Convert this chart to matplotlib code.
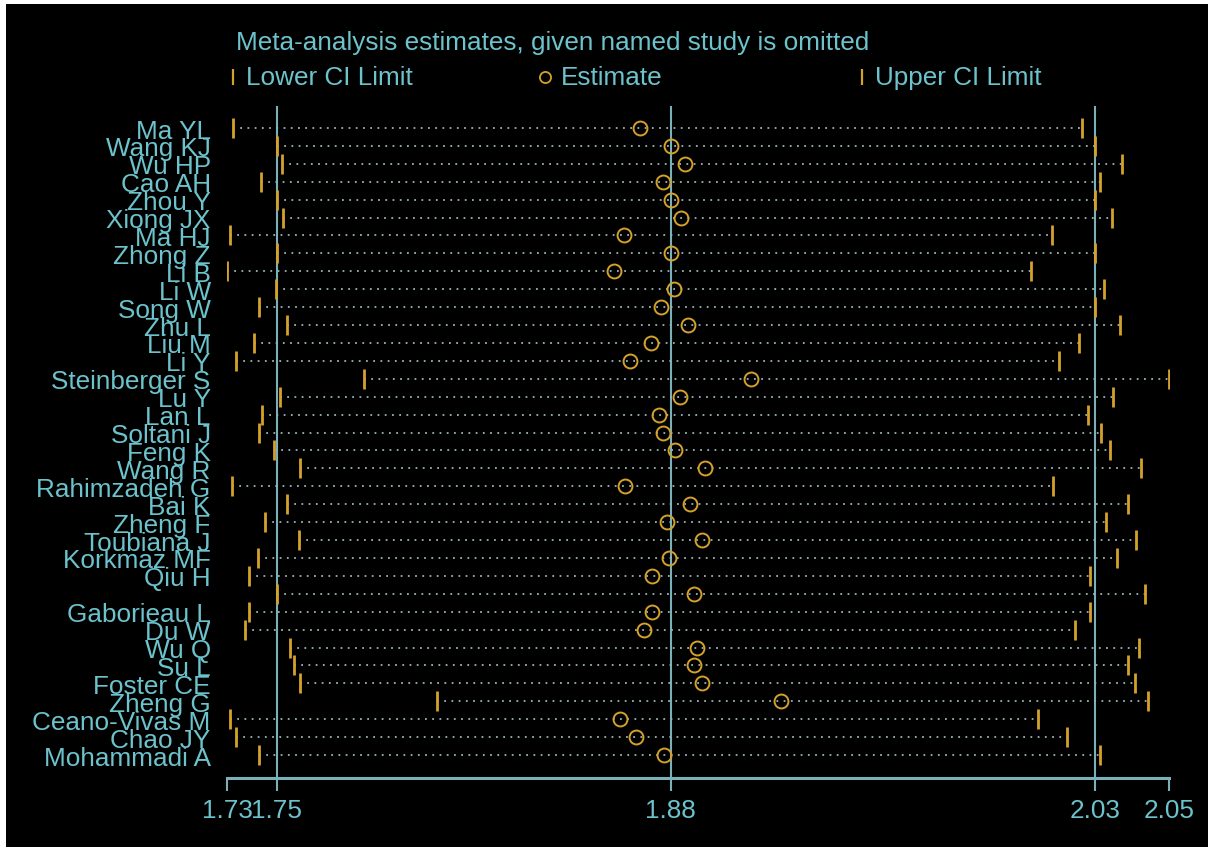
import matplotlib
matplotlib.use('Agg')
import matplotlib.pyplot as plt
from matplotlib.patches import Rectangle
from matplotlib.lines import Line2D

plt.rcParams['font.family'] = ['Liberation Sans', 'DejaVu Sans']

# study omitted, in plot order (one row has no name)
studies = ['Ma YL', 'Wang KJ', 'Wu HP', 'Cao AH', 'Zhou Y', 'Xiong JX', 'Ma HJ', 'Zhong Z',
           'Li B', 'Li W', 'Song W', 'Zhu L', 'Liu M', 'Li Y', 'Steinberger S', 'Lu Y',
           'Lan L', 'Soltani J', 'Feng K', 'Wang R', 'Rahimzadeh G', 'Bai K', 'Zheng F',
           'Toubiana J', 'Korkmaz MF', 'Qiu H', '', 'Gaborieau L', 'Du W', 'Wu Q', 'Su L',
           'Foster CE', 'Zheng G', 'Ceano-Vivas M', 'Chao JY', 'Mohammadi A']

lower = [1.7361, 1.7509, 1.7525, 1.7455, 1.7509, 1.7530, 1.7350, 1.7509,
         1.7341, 1.7505, 1.7449, 1.7544, 1.7430, 1.7370, 1.7803, 1.7520,
         1.7460, 1.7450, 1.7499, 1.7588, 1.7356, 1.7544, 1.7469,
         1.7584, 1.7445, 1.7414, 1.7509, 1.7414, 1.7401, 1.7553, 1.7568,
         1.7588, 1.8052, 1.7350, 1.7370, 1.7449]

estimate = [1.8740, 1.8843, 1.8893, 1.8818, 1.8843, 1.8879, 1.8684, 1.8843,
            1.8650, 1.8853, 1.8809, 1.8903, 1.8775, 1.8704, 1.9116, 1.8873,
            1.8804, 1.8818, 1.8859, 1.8958, 1.8689, 1.8908, 1.8831,
            1.8948, 1.8838, 1.8779, 1.8922, 1.8779, 1.8754, 1.8933, 1.8922,
            1.8948, 1.9217, 1.8670, 1.8724, 1.8819]

upper = [2.0237, 2.0281, 2.0371, 2.0297, 2.0281, 2.0337, 2.0133, 2.0281,
         2.0063, 2.0310, 2.0281, 2.0366, 2.0227, 2.0157, 2.0530, 2.0341,
         2.0257, 2.0301, 2.0332, 2.0436, 2.0138, 2.0391, 2.0316,
         2.0420, 2.0356, 2.0262, 2.0450, 2.0262, 2.0212, 2.0430, 2.0391,
         2.0417, 2.0461, 2.0088, 2.0187, 2.0297]

# pooled result with all studies
overall = [1.7509, 1.8843, 2.0281]

TXT = '#6cc3cc'
LINE = '#7cb0b8'
GOLD = '#d4a22a'
DOT = '#9ab3b6'
FS = 18.8

fig = plt.figure(figsize=(12.15, 8.53), dpi=100, facecolor='white')
fig.patches.append(Rectangle((6/1215, 1 - 848/853), 1202/1215, 843/853,
                             transform=fig.transFigure, facecolor='black',
                             edgecolor='none', zorder=-10))

ax = fig.add_axes([227.3/1215, 1 - 779/853, (1168.7 - 227.3)/1215, (779 - 107)/853])
ax.set_facecolor('black')

rows = list(range(len(studies)))

# overall CI and estimate
for v in overall:
    ax.axvline(v, color=LINE, lw=1.5, zorder=1)

for i in rows:
    ax.plot([lower[i], upper[i]], [i, i], color=DOT, lw=1.3,
            linestyle=(0, (1, 3)), zorder=2)
ax.plot(lower, rows, linestyle='none', marker='|', ms=14, mew=2, color=GOLD, zorder=3)
ax.plot(upper, rows, linestyle='none', marker='|', ms=14, mew=2, color=GOLD, zorder=3)
ax.plot(estimate, rows, linestyle='none', marker='o', ms=10, mfc='none', mec=GOLD,
        mew=1.4, zorder=4)

lo_all = min(lower)
hi_all = max(upper)
ax.set_xlim(lo_all, hi_all)
ax.set_ylim(36.28, -1.228)

ticks = [lo_all] + overall + [hi_all]
ax.set_xticks(ticks)
ax.set_xticklabels([f'{t:.2f}' for t in ticks])
ax.set_yticks(rows)
ax.set_yticklabels(studies)

for s in ['top', 'right', 'left']:
    ax.spines[s].set_visible(False)
ax.spines['bottom'].set_color(LINE)
ax.spines['bottom'].set_linewidth(2.2)
ax.tick_params(axis='x', colors=LINE, length=9.4, width=1.5, labelsize=FS,
               labelcolor=TXT, pad=5)
ax.tick_params(axis='y', length=0, labelsize=FS, labelcolor=TXT, pad=12)

# title and key
fig.text(236/1215, 1 - 43/853, 'Meta-analysis estimates, given named study is omitted',
         color=TXT, fontsize=FS, ha='left', va='center')
key_y = 1 - 78/853
fig.lines.append(Line2D([233/1215], [key_y], marker='|', ms=11, mew=1.6, color=GOLD,
                        transform=fig.transFigure))
fig.text(246/1215, key_y, 'Lower CI Limit', color=TXT, fontsize=FS, ha='left', va='center')
fig.lines.append(Line2D([545/1215], [key_y], marker='o', ms=8, mew=1.3, mfc='none',
                        mec=GOLD, transform=fig.transFigure))
fig.text(561/1215, key_y, 'Estimate', color=TXT, fontsize=FS, ha='left', va='center')
fig.lines.append(Line2D([862/1215], [key_y], marker='|', ms=11, mew=1.6, color=GOLD,
                        transform=fig.transFigure))
fig.text(875/1215, key_y, 'Upper CI Limit', color=TXT, fontsize=FS, ha='left', va='center')

fig.savefig('out.png', dpi=100, facecolor='white')
